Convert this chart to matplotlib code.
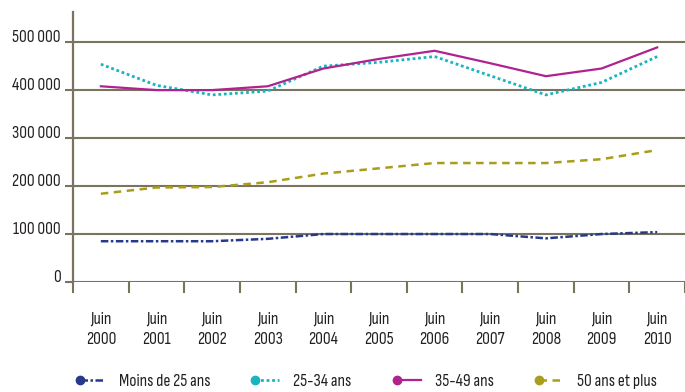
import matplotlib
matplotlib.use("Agg")
import matplotlib.pyplot as plt
from matplotlib.lines import Line2D
from matplotlib.legend_handler import HandlerLine2D
from matplotlib.ticker import FixedLocator

plt.rcParams['font.family'] = ['Sofia Sans Condensed', 'DejaVu Sans']

years = ['2000', '2001', '2002', '2003', '2004', '2005', '2006', '2007', '2008', '2009', '2010']
x_labels = ['Juin\n' + y for y in years]

moins_25 = [85000, 85000, 85000, 90000, 100000, 100000, 100000, 100000, 91000, 100000, 104000]
ans_25_34 = [454000, 410000, 390000, 398000, 450000, 458000, 470000, 430000, 390000, 416000, 470000]
ans_35_49 = [408000, 400000, 400000, 408000, 445000, 465000, 482000, 456000, 429000, 445000, 489000]
ans_50_plus = [184000, 197000, 198000, 208000, 226000, 237000, 248000, 248000, 248000, 256000, 275000]

series_names = ['Moins de 25 ans', '25-34 ans', '35-49 ans', '50 ans et plus']
colors = ['#27398a', '#19b4c2', '#b0228e', '#a99d1c']
grid_color = '#79735f'
text_color = '#231f20'
fs = 12.5


class DotAtStart(HandlerLine2D):
    # legend key: a single dot on the left end of the line sample
    def create_artists(self, legend, orig_handle, xdescent, ydescent, width, height, fontsize, trans):
        artists = super().create_artists(legend, orig_handle, xdescent, ydescent,
                                         width, height, fontsize, trans)
        artists[0].set_markevery([0])
        return artists


fig = plt.figure(figsize=(6.85, 3.92), dpi=100)
ax = fig.add_axes([0.1066, 0.2806, 0.8934, 0.689])

pos = [i + 0.5 for i in range(len(years))]
styles = [
    dict(linestyle=(0, (3, 1, 1, 1)), linewidth=1.8),
    dict(linestyle=(0, (1, 1)), linewidth=2.0),
    dict(linestyle='-', linewidth=1.6),
    dict(linestyle=(0, (3, 2.2)), linewidth=1.8),
]
all_series = [moins_25, ans_25_34, ans_35_49, ans_50_plus]

# horizontal gridlines behind the curves
yticks = [0, 100000, 200000, 300000, 400000, 500000]
for v in yticks:
    ax.axhline(v, color=grid_color, linewidth=1.5, zorder=1)

for vals, name, c, st in zip(all_series, series_names, colors, styles):
    ax.plot(pos, vals, color=c, label=name, zorder=3, **st)

ax.set_xlim(0, 11)
ax.set_ylim(0, 563000)

for s in ['top', 'right', 'bottom']:
    ax.spines[s].set_visible(False)
ax.spines['left'].set_color(grid_color)
ax.spines['left'].set_linewidth(1.6)

ax.set_yticks(yticks)
ax.set_yticklabels([f'{v:,}'.replace(',', ' ') for v in yticks], fontsize=fs)
for lab in ax.get_yticklabels():
    lab.set_verticalalignment('baseline')
ax.tick_params(axis='y', length=6, width=1.5, color=grid_color, pad=3, labelcolor=text_color)

# category edges get the tick marks, labels sit at the centres
ax.xaxis.set_major_locator(FixedLocator(range(0, 12)))
ax.xaxis.set_minor_locator(FixedLocator(pos))
ax.set_xticklabels([''] * 12)
ax.set_xticklabels(x_labels, minor=True, fontsize=fs, linespacing=1.5)
ax.tick_params(axis='x', which='major', length=8, width=1.5, color=grid_color, direction='out')
ax.tick_params(axis='x', which='minor', length=0, pad=21, labelcolor=text_color)

handles = []
for c, st in zip(colors, styles):
    handles.append(Line2D([], [], color=c, marker='o', markersize=6, **st))
leg = fig.legend(handles, series_names, loc='center left', bbox_to_anchor=(0.097, 0.028),
                 ncol=4, frameon=False, fontsize=fs, numpoints=2, handlelength=2.0,
                 handletextpad=0.5, columnspacing=2.3, borderpad=0,
                 handler_map={Line2D: DotAtStart()})
for t in leg.get_texts():
    t.set_color(text_color)

fig.savefig('out.png', dpi=100)
